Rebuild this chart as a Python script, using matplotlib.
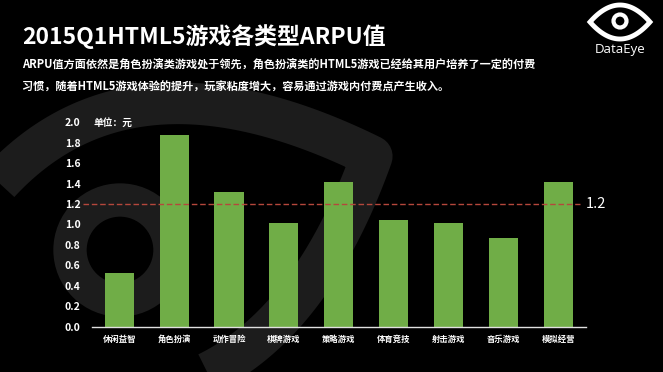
import numpy as np
import matplotlib
matplotlib.use("Agg")
import matplotlib.pyplot as plt
from matplotlib.patches import Polygon, Circle

plt.rcParams['font.family'] = ['Noto Sans CJK SC', 'DejaVu Sans']

title = '2015Q1HTML5游戏各类型ARPU值'
subtitle = ['ARPU值方面依然是角色扮演类游戏处于领先，角色扮演类的HTML5游戏已经给其用户培养了一定的付费',
            '习惯，随着HTML5游戏体验的提升，玩家粘度增大，容易通过游戏内付费点产生收入。']
categories = ['休闲益智', '角色扮演', '动作冒险', '棋牌游戏', '策略游戏',
              '体育竞技', '射击游戏', '音乐游戏', '模拟经营']
arpu = [0.53, 1.88, 1.32, 1.01, 1.42, 1.04, 1.01, 0.87, 1.42]
avg_line = 1.2
yticks = [0.0, 0.2, 0.4, 0.6, 0.8, 1.0, 1.2, 1.4, 1.6, 1.8, 2.0]

W, H = 663, 372
fig = plt.figure(figsize=(W / 100, H / 100), dpi=100)
fig.patch.set_facecolor('black')

# background layer in pixel coords (watermark + logo)
bg = fig.add_axes([0, 0, 1, 1])
bg.set_xlim(0, W)
bg.set_ylim(H, 0)
bg.axis('off')


def lens(cx, cy, a, b, ang, n=200):
    t = np.linspace(-1, 1, n)
    top = b * (1 - t ** 2)
    xs = np.concatenate([a * t, a * t[::-1]])
    ys = np.concatenate([top, -top[::-1]])
    c, s = np.cos(np.radians(ang)), np.sin(np.radians(ang))
    return np.column_stack([cx + xs * c - ys * s, cy + xs * s + ys * c])


# big faint eye watermark
bg.add_patch(Polygon(lens(140, 250, 250, 140, -22), closed=True, fill=False,
                     edgecolor='#1c1c1c', linewidth=30, joinstyle='round'))
bg.add_patch(Circle((120, 250), 50, fill=False, edgecolor='#1c1c1c', linewidth=24))

# logo
bg.add_patch(Polygon(lens(620, 22, 30, 17, 0), closed=True, fill=False,
                     edgecolor='white', linewidth=3.5))
bg.add_patch(Circle((620, 21), 6.5, fill=False, edgecolor='white', linewidth=3))
fig.text(620 / W, 1 - 50 / H, 'DataEye', color='white', fontsize=9.5,
         ha='center', va='center', family=['Open Sans', 'DejaVu Sans'])

fig.text(22 / W, 1 - 37 / H, title, color='white', fontsize=16.5, fontweight='heavy',
         ha='left', va='center')
fig.text(22 / W, 1 - 65 / H, subtitle[0], color='white', fontsize=8, fontweight='bold',
         ha='left', va='center')
fig.text(22 / W, 1 - 87 / H, subtitle[1], color='white', fontsize=8, fontweight='bold',
         ha='left', va='center')

ax = fig.add_axes([91.7 / W, 1 - 326.7 / H, (586 - 91.7) / W, (326.7 - 122.3) / H])
ax.patch.set_alpha(0)
x = np.arange(len(categories))
ax.bar(x, arpu, width=0.53, color='#70ad47', zorder=2)
ax.set_xlim(-0.5, 8.5)
ax.set_ylim(0, 2.0)
ax.set_yticks(yticks)
ax.set_yticklabels([f'{v:.1f}' for v in yticks], color='white', fontsize=7.5,
                   fontweight='bold')
ax.set_xticks(x)
ax.set_xticklabels(categories, color='white', fontsize=6, fontweight='bold')
ax.tick_params(length=0, pad=8)
ax.tick_params(axis='x', pad=6)
for side in ['left', 'right', 'top']:
    ax.spines[side].set_visible(False)
ax.spines['bottom'].set_color('#e0e0e0')
ax.spines['bottom'].set_linewidth(1)

ax.axhline(avg_line, xmin=-0.018, xmax=0.988, color='#b5473c', linestyle='--',
           linewidth=1, dashes=(4, 2), clip_on=False, zorder=3)
ax.text(1.0, avg_line, f'{avg_line}', transform=ax.get_yaxis_transform(),
        color='white', fontsize=10.5, ha='left', va='center')
ax.text(94 / W, 1 - 123 / H, '单位：元', transform=fig.transFigure, color='white',
        fontsize=7, fontweight='bold', ha='left', va='center')

fig.savefig('out.png', dpi=100, facecolor='black')
